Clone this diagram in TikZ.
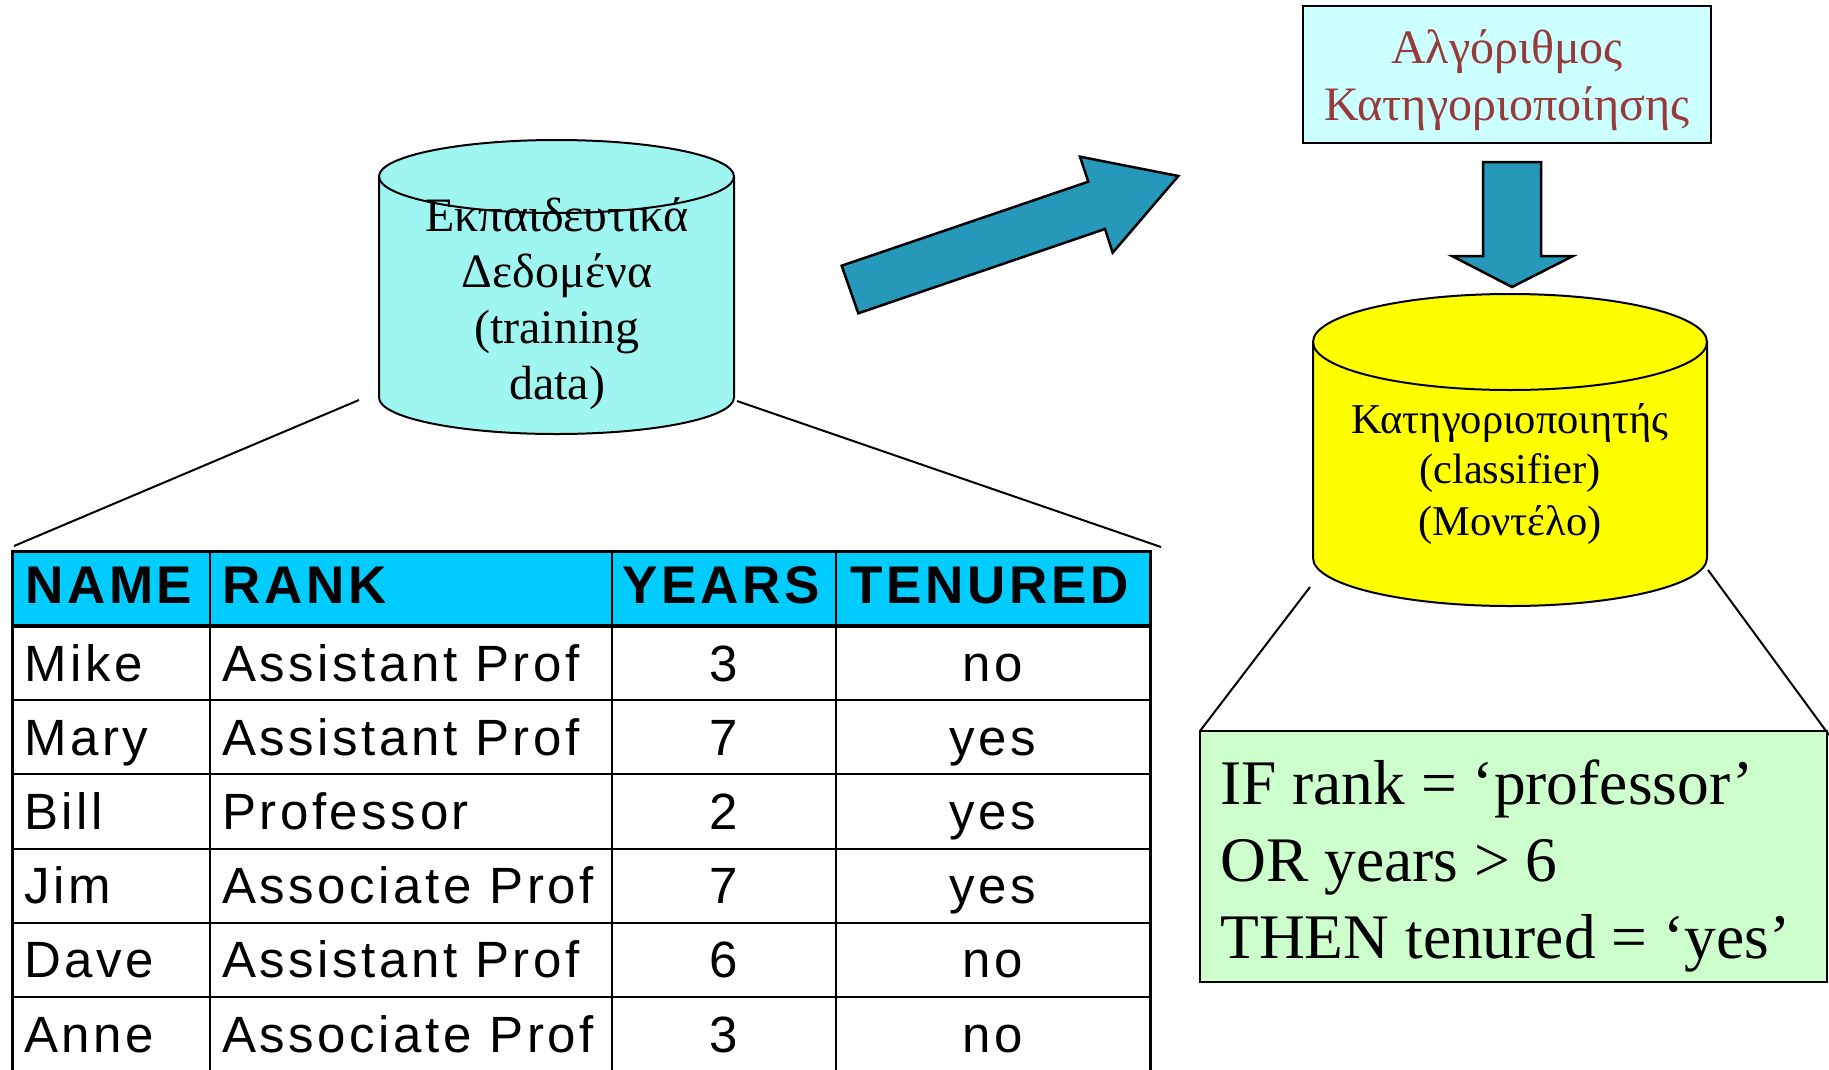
\documentclass[tikz,border=0pt]{standalone}
\usepackage{fontspec}
\setmainfont{Liberation Serif}
\newfontfamily\tabfont[LetterSpace=7]{Liberation Sans}
\definecolor{dbcyan}{RGB}{159,245,240}
\definecolor{algofill}{RGB}{204,255,255}
\definecolor{algotext}{RGB}{150,58,58}
\definecolor{arrowteal}{RGB}{38,152,186}
\definecolor{headcyan}{RGB}{0,204,255}
\definecolor{rulegreen}{RGB}{204,255,204}
\definecolor{modelyellow}{RGB}{255,255,0}

% drum (database) shape: centre x, top-ellipse y, bottom-ellipse y, x radius, y radius, fill
\newcommand{\drumshape}[6]{%
  \filldraw[fill=#6, line width=2pt]
    (#1-#4,#2) -- (#1-#4,#3)
    arc[start angle=180, end angle=360, x radius=#4pt, y radius=#5pt]
    -- (#1+#4,#2)
    arc[start angle=0, end angle=180, x radius=#4pt, y radius=#5pt] -- cycle;
  \draw[line width=2pt] (#1-#4,#2)
    arc[start angle=180, end angle=360, x radius=#4pt, y radius=#5pt];
}

\begin{document}
\begin{tikzpicture}[x=1pt, y=-1pt,
  txt/.style={inner sep=0pt, anchor=base},
  cell/.style={inner sep=0pt, anchor=base west, font=\tabfont\fontsize{51}{60}\selectfont},
  ccell/.style={inner sep=0pt, anchor=base, font=\tabfont\fontsize{51}{60}\selectfont},
  hcell/.style={inner sep=0pt, anchor=base west, font=\tabfont\bfseries\fontsize{53}{62}\selectfont},
  link/.style={line width=2pt},
  bigarrow/.style={fill=arrowteal, draw=black, line width=2.5pt, line join=miter}]
\useasboundingbox (0,0) rectangle (1829,1069);
\begin{scope}
\clip (0,0) rectangle (1829,1069);

% ---------- training data drum ----------
\drumshape{556.5}{176.5}{397.5}{177.5}{36.5}{dbcyan}
\begin{scope}[every node/.style={txt, font=\fontsize{48}{57}\selectfont}]
  \node (tr1) at (557,231) {Εκπαιδευτικά};
  \node (tr2) at (557,287) {Δεδομένα};
  \node (tr3) at (557,343) {(training};
  \node (tr4) at (557,399) {data)};
\end{scope}
\coordinate (trainL) at (359,400);
\coordinate (trainR) at (737,401);

% ---------- table ----------
\coordinate (tabL) at (14,546);
\coordinate (tabR) at (1161,547);
\fill[headcyan] (12,551) rectangle (1150,626);
\foreach \k in {1,...,5}
  \draw[line width=2pt] (12,626+74.2*\k) -- (1150,626+74.2*\k);
\foreach \xx in {210,612,836}
  \draw[line width=2pt] (\xx,551) -- (\xx,1080);
\draw[line width=3.5pt] (12,626) -- (1150,626);
\draw[line width=3pt] (12,1080) -- (12,551) -- (1150,551) -- (1150,1080);

\node[hcell] (hname)  at (25,603)  {NAME};
\node[hcell] (hrank)  at (222,603) {RANK};
\node[hcell] (hyears) at (622,603) {YEARS};
\node[hcell] (hten)   at (850,603) {TENURED};

\foreach \nm/\rk/\yr/\tn [count=\i] in {Mike/Assistant Prof/3/no,
    Mary/Assistant Prof/7/yes, Bill/Professor/2/yes,
    Jim/Associate Prof/7/yes, Dave/Assistant Prof/6/no,
    Anne/Associate Prof/3/no}{
  \node[cell]  (nm\i) at (24,  626+74.2*\i-74.2+55) {\nm};
  \node[cell]  (rk\i) at (222, 626+74.2*\i-74.2+55) {\rk};
  \node[ccell] (yr\i) at (724, 626+74.2*\i-74.2+55) {\yr};
  \node[ccell] (tn\i) at (993, 626+74.2*\i-74.2+55) {\tn};
}

\draw[link] (trainL) -- (tabL);
\draw[link] (trainR) -- (tabR);

% ---------- big diagonal arrow ----------
\draw[bigarrow] (841.7,265.7) -- (1088.3,181.7) -- (1080,156.7) -- (1178.3,176)
  -- (1112.7,252.7) -- (1105,229) -- (858.3,313.3) -- cycle;

% ---------- algorithm box ----------
\node[draw, line width=2.5pt, fill=algofill, minimum width=408pt, minimum height=137pt,
  inner sep=0pt] (algo) at (1507,74.5) {};
\begin{scope}[every node/.style={txt, text=algotext, font=\fontsize{48}{57}\selectfont}]
  \node (al1) at (1507,63)  {Αλγόριθμος};
  \node (al2) at (1507,120) {Κατηγοριοποίησης};
\end{scope}

% ---------- down arrow ----------
\draw[bigarrow] (1483,162) -- (1541,162) -- (1541,256) -- (1573,256) -- (1512,287)
  -- (1452,256) -- (1483,256) -- cycle;

% ---------- classifier drum ----------
\drumshape{1510}{342}{558}{197}{48}{modelyellow}
\begin{scope}[every node/.style={txt, font=\fontsize{42.5}{51}\selectfont}]
  \node (cl1) at (1510,433) {Κατηγοριοποιητής};
  \node (cl2) at (1510,483) {(classifier)};
  \node (cl3) at (1510,535) {(Μοντέλο)};
\end{scope}
\coordinate (clsL) at (1310,587);
\coordinate (clsR) at (1708,570);

% ---------- rule box ----------
\filldraw[fill=rulegreen, line width=2.5pt] (1200,731) rectangle (1827,982);
\coordinate (ruleL) at (1200,731);
\coordinate (ruleR) at (1829,735);
\begin{scope}[every node/.style={inner sep=0pt, anchor=base west, font=\fontsize{63.5}{77}\selectfont}]
  \node (r1) at (1220,804) {IF rank = ‘professor’};
  \node (r2) at (1220,881) {OR years > 6};
  \node (r3) at (1220,958) {THEN tenured = ‘yes’};
\end{scope}
\draw[link] (clsL) -- (ruleL);
\draw[link] (clsR) -- (ruleR);
\end{scope}
\end{tikzpicture}
\end{document}
